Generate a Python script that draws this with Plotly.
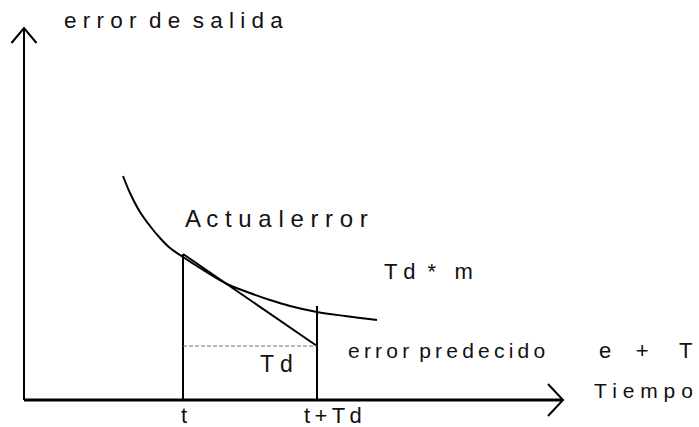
import plotly.graph_objects as go

# ---- data (diagram coordinates: time on x, error on y) ----
axis_origin = [0.0, 0.0]
x_axis_end = 5.39          # time axis arrow tip
y_axis_end = 3.72          # error axis arrow tip

t_now = 1.59               # t
t_pred = 2.93              # t + Td
err_now = 1.46             # value at top of t line (tangent start)
err_pred = 0.54            # predicted error at t+Td
err_curve_at_pred = 0.94   # top of the t+Td line

curve_x = [0.99, 1.06, 1.16, 1.26, 1.36, 1.46, 1.59, 1.76, 2.03, 2.26, 2.46, 2.66, 2.93, 3.21, 3.53]
curve_y = [2.24, 2.07, 1.88, 1.74, 1.62, 1.52, 1.43, 1.32, 1.16, 1.07, 1.00, 0.94, 0.88, 0.84, 0.80]

TS = "\u2009"  # thin space used for the letter-spaced look
NB = "\u00a0"
labels = {
    "ylabel": "e r r o r  d e  s a l i d a",
    "actual": "A c t u a l e r r o r",
    "tdm": "T d  *   m",
    "td": "T d",
    "pred": TS.join("error") + " " + TS + TS.join("predecido"),
    "pred2": "e" + NB * 4 + "+" + NB * 5 + "T",
    "xlabel": "T i e m p o",
    "t": "t",
    "ttd": "t\u2009+\u2009T\u2009d",
}

# ---- figure ----
BLACK = "#000000"
fig = go.Figure()

def seg(xs, ys, width=2, color=BLACK, dash="solid", shape="linear"):
    fig.add_trace(go.Scatter(x=xs, y=ys, mode="lines", hoverinfo="skip", showlegend=False,
                             line=dict(color=color, width=width, dash=dash, shape=shape)))

# axes
seg([axis_origin[0], axis_origin[0]], [axis_origin[1], y_axis_end], width=2)
seg([axis_origin[0], x_axis_end], [axis_origin[1], axis_origin[1]], width=3)
# arrow heads (open chevrons)
ah_w, ah_h = 0.125, 0.15
seg([axis_origin[0] - ah_w, axis_origin[0], axis_origin[0] + ah_w],
    [y_axis_end - ah_h, y_axis_end, y_axis_end - ah_h], width=2)
seg([x_axis_end - 0.15, x_axis_end, x_axis_end - 0.15],
    [axis_origin[1] + 0.16, axis_origin[1], axis_origin[1] - 0.16], width=2)

# error curve
seg(curve_x, curve_y, width=2, shape="spline")
# vertical lines at t and t+Td
seg([t_now, t_now], [0, err_now], width=2)
seg([t_pred, t_pred], [0, err_curve_at_pred], width=2)
# prediction line
seg([t_now, t_pred], [err_now, err_pred], width=2)
# dashed horizontal
seg([t_now, t_pred], [err_pred, err_pred], width=1, color="#707070", dash="4px,2px")

FONT = "Liberation Sans, Arial, sans-serif"

def label(x, y, text, size=22, xanchor="left"):
    fig.add_annotation(x=x, y=y, text=text, showarrow=False, xanchor=xanchor, yanchor="middle",
                       font=dict(family=FONT, size=size, color="#111111"))

label(0.38, 3.80, labels["ylabel"], 22.5)
label(1.59, 1.815, labels["actual"], 24)
label(3.58, 1.285, labels["tdm"], 22)
label(2.34, 0.36, labels["td"], 23)
label(3.22, 0.50, labels["pred"], 21)
label(5.73, 0.50, labels["pred2"], 22)
label(5.68, 0.10, labels["xlabel"], 21)
label(1.60, -0.15, labels["t"], 22, xanchor="center")
label(2.78, -0.15, labels["ttd"], 22)

fig.update_layout(
    width=699, height=427,
    margin=dict(l=0, r=0, t=0, b=0),
    paper_bgcolor="white", plot_bgcolor="white",
    xaxis=dict(range=[-0.24, 6.75], visible=False, fixedrange=True),
    yaxis=dict(range=[-0.27, 4.0], visible=False, fixedrange=True),
    showlegend=False,
)

fig.write_html("out.html", config={"displayModeBar": False},
               post_script="document.body.style.margin='0';document.body.style.overflow='hidden';")
